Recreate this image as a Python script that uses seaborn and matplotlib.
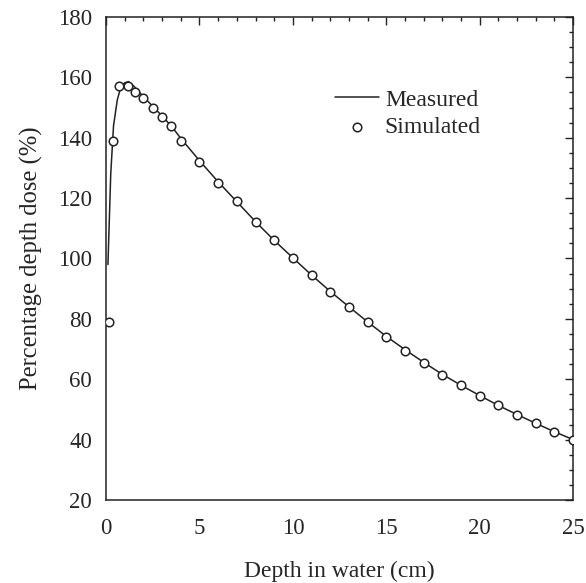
import matplotlib
matplotlib.use('Agg')
import matplotlib.pyplot as plt
import seaborn as sns
from matplotlib.ticker import MultipleLocator

# Measured curve (depth in cm, percentage depth dose)
measured_depth = [0.1, 0.25, 0.4, 0.6, 0.8, 1.0, 1.2, 1.5, 2.0, 2.5, 3.0, 3.5, 4.0,
                  5, 6, 7, 8, 9, 10, 11, 12, 13, 14, 15, 16, 17, 18, 19, 20,
                  21, 22, 23, 24, 25]
measured_dose = [98, 128, 144, 152.5, 157, 158.2, 158.6, 157, 153.6, 150.4, 147.2, 143.8, 139.8,
                 132.4, 125.4, 118.8, 112.2, 106, 100.2, 94.5, 89.1, 84, 79, 74.2, 69.8, 65.6,
                 61.6, 58, 54.6, 51.3, 48.3, 45.4, 42.6, 40]

# Simulated points
sim_depth = [0.15, 0.35, 0.7, 1.15, 1.55, 2.0, 2.5, 3.0, 3.5, 4.0,
             5, 6, 7, 8, 9, 10, 11, 12, 13, 14, 15, 16, 17, 18, 19, 20,
             21, 22, 23, 24, 25]
sim_dose = [79, 139, 157, 157, 155, 153, 150, 147, 144, 139,
            132, 125, 119, 112, 106, 100, 94.5, 89, 84, 79, 74, 69.5, 65.5, 61.5,
            58, 54.5, 51.5, 48, 45.5, 42.5, 40]

sns.set_style('white')
plt.rcParams['font.family'] = ['Liberation Serif', 'DejaVu Serif']

fig = plt.figure(figsize=(5.86, 5.83), dpi=100)
ax = fig.add_axes([0.181, 0.1424, 0.797, 0.8285])

sns.lineplot(x=measured_depth, y=measured_dose, ax=ax, color='#222222', linewidth=1.1,
             label='Measured', sort=False)
sns.scatterplot(x=sim_depth, y=sim_dose, ax=ax, marker='o', s=38, facecolor='white',
                edgecolor='#222222', linewidth=1.1, label='Simulated', zorder=3)

ax.set_xlim(0, 25)
ax.set_ylim(20, 180)
ax.xaxis.set_major_locator(MultipleLocator(5))
ax.xaxis.set_minor_locator(MultipleLocator(1))
ax.yaxis.set_major_locator(MultipleLocator(20))
ax.yaxis.set_minor_locator(MultipleLocator(5))
ax.tick_params(which='both', direction='in', top=True, right=True, labelsize=16.5,
               color='#222222', width=1)
ax.tick_params(which='major', length=6)
ax.tick_params(axis='y', which='major', pad=10)
ax.tick_params(axis='x', which='major', pad=13)
ax.tick_params(which='minor', length=3)
for sp in ax.spines.values():
    sp.set_color('#222222')
    sp.set_linewidth(1.1)

ax.set_xlabel('Depth in water (cm)', fontsize=17, labelpad=16)
ax.set_ylabel('Percentage depth dose (%)', fontsize=17.7, labelpad=11)

leg = ax.legend(loc='upper right', bbox_to_anchor=(0.823, 0.87), frameon=False, fontsize=17,
                handlelength=1.85, handletextpad=0.25, labelspacing=0.25, borderaxespad=0)

fig.savefig('out.png', dpi=100)
